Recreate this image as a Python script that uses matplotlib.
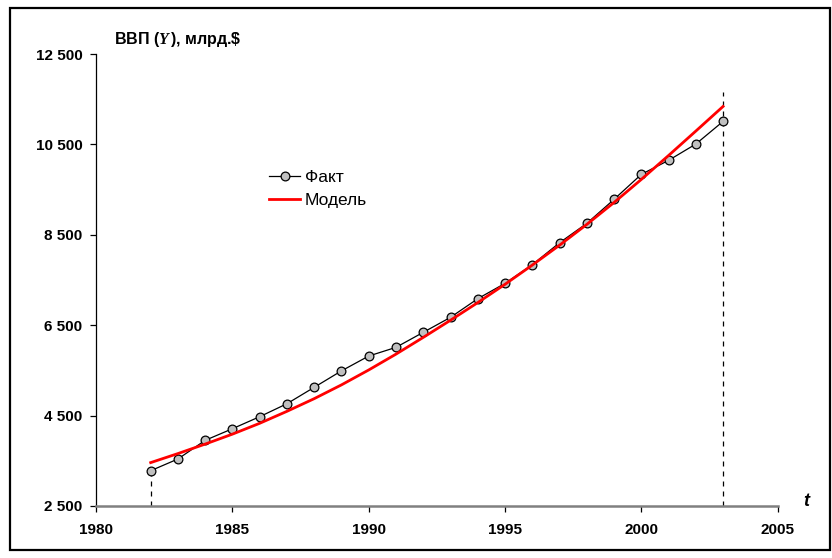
import matplotlib
matplotlib.use("Agg")
import matplotlib.pyplot as plt
from matplotlib.patches import Rectangle


years = [
    1982, 1983, 1984, 1985, 1986, 1987, 1988,
    1989, 1990, 1991, 1992, 1993, 1994, 1995,
    1996, 1997, 1998, 1999, 2000, 2001, 2002, 2003
]

# GDP, billions of dollars
fact = [
    3281, 3540, 3953, 4210, 4476, 4763, 5126,
    5490, 5818, 6010, 6342, 6674, 7086, 7426,
    7838, 8324, 8753, 9284, 9837, 10147, 10508, 11009
]

model = [
    3460, 3660, 3870, 4090, 4330, 4595, 4875,
    5180, 5510, 5860, 6230, 6610, 7000, 7405,
    7830, 8270, 8730, 9215, 9725, 10255, 10795, 11340
]

x_ticks = [1980, 1985, 1990, 1995, 2000, 2005]
y_ticks = [2500, 4500, 6500, 8500, 10500, 12500]
y_tick_labels = ["2 500", "4 500", "6 500", "8 500", "10 500", "12 500"]

dash_top = 11670


plt.rcParams["font.family"] = ["Liberation Sans", "DejaVu Sans"]
plt.rcParams["mathtext.fontset"] = "custom"
plt.rcParams["mathtext.it"] = "Liberation Serif:italic:bold"

fig = plt.figure(figsize=(8.32, 5.58), dpi=100)
ax = fig.add_axes([0.1156, 0.0932, 0.819, 0.81])

# outer frame around the whole chart
fig.patches.append(
    Rectangle(
        (0.012, 0.014), 0.985, 0.972,
        transform=fig.transFigure,
        fill=False,
        edgecolor="black",
        linewidth=1.6
    )
)


# ==========================
# Lines
# ==========================

ax.plot(
    [years[0], years[0]],
    [y_ticks[0], fact[0]],
    color="black",
    linestyle=(0, (4, 4)),
    linewidth=0.9
)

ax.plot(
    [years[-1], years[-1]],
    [y_ticks[0], dash_top],
    color="black",
    linestyle=(0, (4, 4)),
    linewidth=0.9
)

ax.plot(
    years,
    fact,
    color="black",
    linewidth=0.9,
    marker="o",
    markersize=6.3,
    markerfacecolor="#c0c0c0",
    markeredgecolor="black",
    markeredgewidth=0.9,
    label="Факт",
    zorder=3
)

ax.plot(
    years,
    model,
    color="red",
    linewidth=2,
    label="Модель",
    zorder=4
)


# ==========================
# Axes
# ==========================

ax.set_xlim(1980, 2005)
ax.set_ylim(2500, 12500)

ax.set_xticks(x_ticks)
ax.set_yticks(y_ticks)
ax.set_yticklabels(y_tick_labels)

ax.spines["top"].set_visible(False)
ax.spines["right"].set_visible(False)
ax.spines["left"].set_linewidth(0.9)
ax.spines["bottom"].set_linewidth(1.8)
ax.spines["bottom"].set_color("#808080")

ax.tick_params(
    axis="both",
    direction="out",
    length=4,
    width=0.9,
    labelsize=11
)
ax.tick_params(axis="x", pad=8)
ax.tick_params(axis="y", pad=6)

for label in ax.get_xticklabels() + ax.get_yticklabels():
    label.set_fontweight("bold")

fig.text(
    0.137, 0.921,
    r"ВВП ($\mathit{Y}\,$), млрд.\$",
    fontsize=11.5,
    fontweight="bold",
    ha="left",
    va="baseline"
)

fig.text(
    0.969, 0.093,
    "t",
    fontsize=13,
    fontweight="bold",
    fontstyle="italic",
    ha="center",
    va="baseline"
)

ax.legend(
    loc="center left",
    bbox_to_anchor=(269 / 832, 1 - 189 / 558),
    bbox_transform=fig.transFigure,
    borderpad=0,
    borderaxespad=0,
    frameon=False,
    fontsize=12.5,
    handlelength=1.8,
    handletextpad=0.25,
    labelspacing=0.5
)

fig.savefig("out.png", dpi=100)
